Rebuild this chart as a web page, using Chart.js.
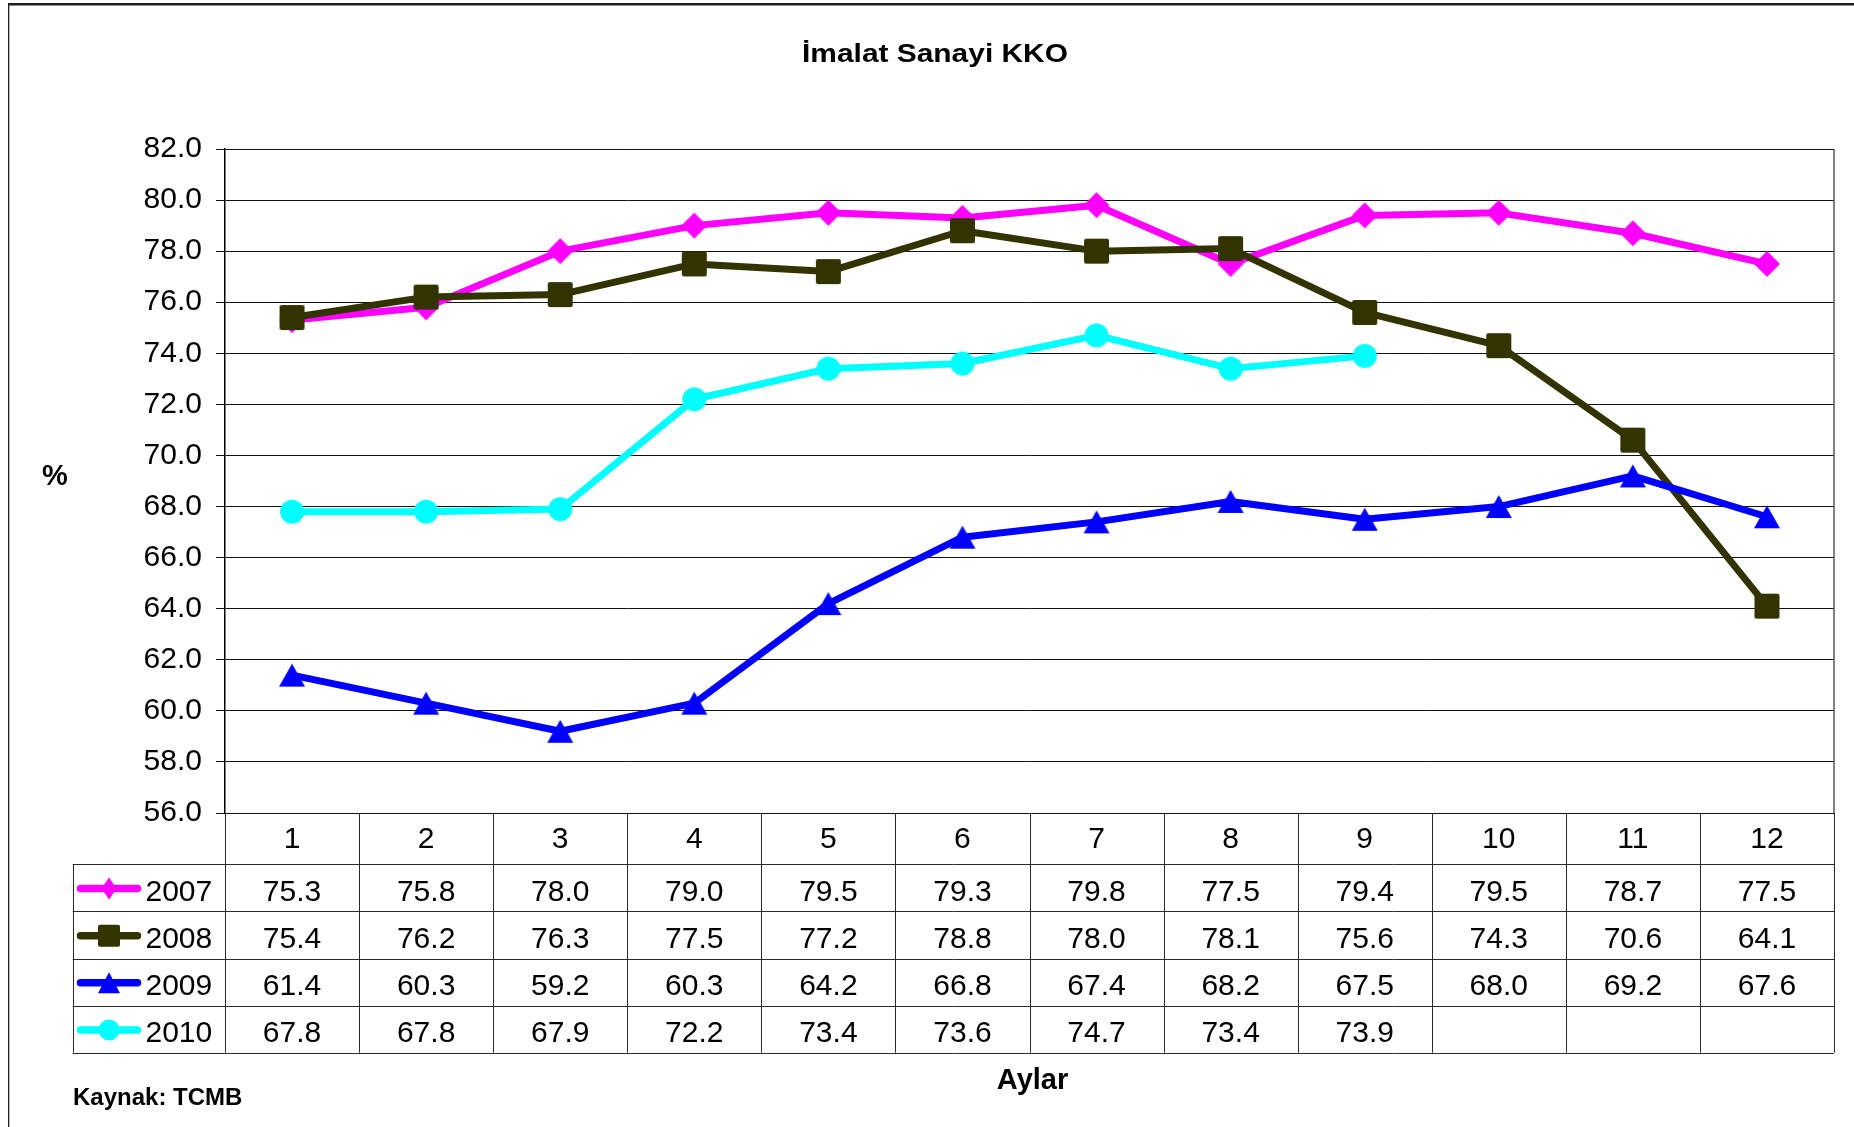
<!DOCTYPE html>
<html>
<head>
<meta charset="utf-8">
<script src="https://cdn.jsdelivr.net/npm/chart.js@4.4.0/dist/chart.umd.min.js"></script>
<style>
html,body{margin:0;padding:0;background:#fff;}
canvas{display:block;}
</style>
</head>
<body>
<canvas id="c" width="1854" height="1127"></canvas>
<script>
// ---- data ----
const months = ['1','2','3','4','5','6','7','8','9','10','11','12'];
const years = ['2007','2008','2009','2010'];
const kko2007 = [75.3,75.8,78.0,79.0,79.5,79.3,79.8,77.5,79.4,79.5,78.7,77.5];
const kko2008 = [75.4,76.2,76.3,77.5,77.2,78.8,78.0,78.1,75.6,74.3,70.6,64.1];
const kko2009 = [61.4,60.3,59.2,60.3,64.2,66.8,67.4,68.2,67.5,68.0,69.2,67.6];
const kko2010 = [67.8,67.8,67.9,72.2,73.4,73.6,74.7,73.4,73.9,null,null,null];
const yTickValues = [56,58,60,62,64,66,68,70,72,74,76,78,80,82];
const titleText = 'İmalat Sanayi KKO';
const yTitleText = '%';
const xTitleText = 'Aylar';
const sourceText = 'Kaynak: TCMB';

const FONT = '"Liberation Sans", Arial, Helvetica, sans-serif';
const colors = ['#FF00FF', '#333300', '#0000FF', '#00FFFF'];
const seriesData = [kko2007, kko2008, kko2009, kko2010];
const shapes = ['diamond', 'square', 'triangle', 'circle'];

// ---- marker drawing ----
function shapePath(g, shape, cx, cy, w, h) {
  g.beginPath();
  if (shape === 'diamond') {
    g.moveTo(cx, cy - h/2); g.lineTo(cx + w/2, cy); g.lineTo(cx, cy + h/2); g.lineTo(cx - w/2, cy); g.closePath();
  } else if (shape === 'square') {
    const r = 2;
    const x0 = cx - w/2, y0 = cy - h/2;
    g.moveTo(x0 + r, y0); g.lineTo(x0 + w - r, y0); g.quadraticCurveTo(x0 + w, y0, x0 + w, y0 + r);
    g.lineTo(x0 + w, y0 + h - r); g.quadraticCurveTo(x0 + w, y0 + h, x0 + w - r, y0 + h);
    g.lineTo(x0 + r, y0 + h); g.quadraticCurveTo(x0, y0 + h, x0, y0 + h - r);
    g.lineTo(x0, y0 + r); g.quadraticCurveTo(x0, y0, x0 + r, y0); g.closePath();
  } else if (shape === 'triangle') {
    g.moveTo(cx, cy - h/2); g.lineTo(cx + w/2, cy + h/2); g.lineTo(cx - w/2, cy + h/2); g.closePath();
  } else {
    g.ellipse(cx, cy, w/2, h/2, 0, 0, Math.PI * 2);
  }
}
function markerCanvas(shape, w, h, color) {
  const c = document.createElement('canvas');
  c.width = w + 2; c.height = h + 2;
  const g = c.getContext('2d');
  g.fillStyle = color;
  shapePath(g, shape, c.width/2, c.height/2, w, h);
  g.fill();
  return c;
}
const plotMarkerSize = [[26,26],[25,25],[26,23],[24,24]];
const legendMarkerSize = [[15,22],[22,22],[22,21],[21,21]];
const markers = shapes.map((s, i) => markerCanvas(s, plotMarkerSize[i][0], plotMarkerSize[i][1], colors[i]));

// ---- decorations / table plugin ----
function hline(ctx, x1, x2, y) { ctx.beginPath(); ctx.moveTo(x1, Math.round(y) + 0.5); ctx.lineTo(x2, Math.round(y) + 0.5); ctx.stroke(); }
function vline(ctx, x, y1, y2) { ctx.beginPath(); ctx.moveTo(Math.round(x) + 0.5, y1); ctx.lineTo(Math.round(x) + 0.5, y2); ctx.stroke(); }

const deco = {
  id: 'deco',
  afterDraw(chart) {
    const ctx = chart.ctx, a = chart.chartArea, xs = chart.scales.x;
    ctx.save();
    // outer frame
    ctx.fillStyle = '#1e1e1e';
    ctx.fillRect(8, 3, 1846, 2.5);
    ctx.fillRect(8, 3, 1.3, 1124);
    // plot right border
    ctx.strokeStyle = '#555';
    ctx.lineWidth = 1.5;
    ctx.beginPath(); ctx.moveTo(a.right, a.top); ctx.lineTo(a.right, a.bottom); ctx.stroke();

    // title
    ctx.fillStyle = '#000';
    ctx.save();
    ctx.translate(935, 61.5);
    ctx.scale(1.15, 1);
    ctx.font = 'bold 26px ' + FONT;
    ctx.textAlign = 'center';
    ctx.textBaseline = 'alphabetic';
    ctx.fillText(titleText, 0, 0);
    ctx.restore();

    // y title
    ctx.font = 'bold 29px ' + FONT;
    ctx.textAlign = 'center';
    ctx.textBaseline = 'middle';
    ctx.fillText(yTitleText, 55, 477);

    // x title
    ctx.font = 'bold 29px ' + FONT;
    ctx.textBaseline = 'alphabetic';
    ctx.fillText(xTitleText, 1032.5, 1088.5);

    // source
    ctx.font = 'bold 24px ' + FONT;
    ctx.textAlign = 'left';
    ctx.fillText(sourceText, 73, 1105);

    // data table
    const n = months.length;
    const colW = (a.right - a.left) / n;
    const headerBottom = a.bottom + 51.3;
    const rowH = 47.1;
    const tableBottom = headerBottom + rowH * years.length;
    const legL = 72.7;
    ctx.strokeStyle = '#2a2a2a';
    ctx.lineWidth = 1;
    for (let r = 0; r <= years.length; r++) hline(ctx, legL, a.right, headerBottom + r * rowH);
    vline(ctx, legL, headerBottom, tableBottom);
    vline(ctx, a.left, a.bottom, tableBottom);
    for (let i = 0; i < n; i++) {
      const xr = xs.getPixelForValue(i) + colW / 2;
      vline(ctx, xr, a.bottom, tableBottom);
    }

    // values
    ctx.font = '30px ' + FONT;
    ctx.fillStyle = '#000';
    ctx.textAlign = 'center';
    ctx.textBaseline = 'alphabetic';
    for (let s = 0; s < years.length; s++) {
      const top = headerBottom + s * rowH;
      for (let i = 0; i < n; i++) {
        const v = seriesData[s][i];
        if (v === null || v === undefined) continue;
        ctx.fillText(v.toFixed(1), xs.getPixelForValue(i), top + 36.3);
      }
    }

    // legend keys
    for (let s = 0; s < years.length; s++) {
      const top = headerBottom + s * rowH;
      const cy = top + 24.3;
      ctx.strokeStyle = colors[s];
      ctx.lineWidth = 7.5;
      ctx.lineCap = 'round';
      ctx.beginPath(); ctx.moveTo(80.5, cy); ctx.lineTo(137.5, cy); ctx.stroke();
      ctx.fillStyle = colors[s];
      shapePath(ctx, shapes[s], 109, cy, legendMarkerSize[s][0], legendMarkerSize[s][1]);
      ctx.fill();
      ctx.fillStyle = '#000';
      ctx.font = '30px ' + FONT;
      ctx.textAlign = 'left';
      ctx.fillText(years[s], 145.5, top + 36.6);
    }
    ctx.restore();
  }
};

Chart.defaults.font.family = FONT;
const datasets = years.map((y, i) => ({
  label: y,
  data: seriesData[i],
  borderColor: colors[i],
  backgroundColor: colors[i],
  borderWidth: 7,
  borderJoinStyle: 'round',
  borderCapStyle: 'round',
  pointStyle: markers[i],
  pointRadius: 13,
  pointHoverRadius: 13,
  tension: 0,
  spanGaps: false,
  order: years.length - i
}));

new Chart(document.getElementById('c'), {
  type: 'line',
  data: { labels: months, datasets },
  options: {
    responsive: false,
    animation: false,
    devicePixelRatio: 1,
    layout: { padding: { top: 149, right: 17, left: 0, bottom: 0 } },
    plugins: { legend: { display: false }, tooltip: { enabled: false }, title: { display: false } },
    scales: {
      x: {
        type: 'category',
        offset: true,
        grid: { display: false, drawTicks: false },
        border: { display: false },
        ticks: { font: { size: 30, family: FONT }, color: '#000', padding: 8.5, maxRotation: 0, autoSkip: false },
        afterFit(s) { s.height = 314; }
      },
      y: {
        min: 56, max: 82,
        afterBuildTicks(s) { s.ticks = yTickValues.map(v => ({ value: v })); },
        ticks: { font: { size: 30, family: FONT }, color: '#000', padding: 14, callback: v => Number(v).toFixed(1) },
        grid: { color: '#111', lineWidth: 1, tickLength: 9, drawTicks: true },
        border: { color: '#000', width: 1.5 },
        afterFit(s) { s.width = 225; }
      }
    }
  },
  plugins: [deco]
});
</script>
</body>
</html>
